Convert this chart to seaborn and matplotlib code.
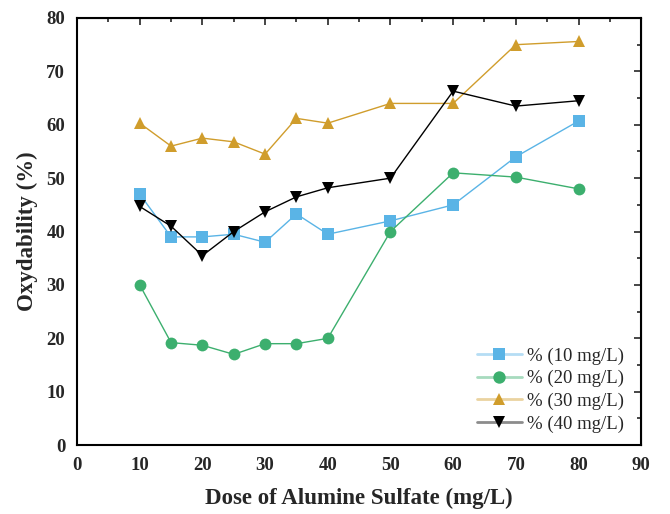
import pandas as pd
import matplotlib.pyplot as plt
import matplotlib.colors as mcolors
import seaborn as sns

doses = [10, 15, 20, 25, 30, 35, 40, 50, 60, 70, 80]
series_names = ["% (10 mg/L)", "% (20 mg/L)", "% (30 mg/L)", "% (40 mg/L)"]
ox_10 = [47.0, 39.0, 39.0, 39.5, 38.0, 43.3, 39.5, 42.0, 45.0, 54.0, 60.7]
ox_20 = [30.0, 19.2, 18.7, 17.0, 19.0, 19.0, 20.0, 40.0, 51.0, 50.2, 48.0]
ox_30 = [60.3, 56.0, 57.5, 56.8, 54.5, 61.2, 60.3, 64.0, 64.0, 75.0, 75.6]
ox_40 = [44.7, 41.0, 35.5, 40.0, 43.7, 46.5, 48.2, 50.0, 66.3, 63.5, 64.5]

colors = ["#5AB4E6", "#3CAF6E", "#D09D2C", "#000000"]
markers = ["s", "o", "^", "v"]

frames = []
for name, vals in zip(series_names, [ox_10, ox_20, ox_30, ox_40]):
    frames.append(pd.DataFrame({"dose": doses, "ox": vals, "series": name}))
df = pd.concat(frames, ignore_index=True)

sns.set_style("white")
plt.rcParams["font.family"] = ["Liberation Serif", "DejaVu Serif"]

fig = plt.figure(figsize=(6.7, 5.14), dpi=100)
ax = fig.add_axes([0.115, 0.134, 0.842, 0.831])

sns.lineplot(
    data=df,
    x="dose",
    y="ox",
    hue="series",
    style="series",
    hue_order=series_names,
    style_order=series_names,
    palette=dict(zip(series_names, colors)),
    markers=dict(zip(series_names, markers)),
    dashes=False,
    markersize=8.5,
    markeredgewidth=0,
    linewidth=1,
    ax=ax,
)

ax.set_xlim(0, 90)
ax.set_ylim(0, 80)
ax.set_xticks(range(0, 91, 10))
ax.set_yticks(range(0, 81, 10))
ax.set_xticks(range(5, 90, 10), minor=True)
ax.set_yticks(range(5, 80, 10), minor=True)
ax.tick_params(which="major", direction="out", length=5, width=1.2, labelsize=13.5)
ax.tick_params(which="minor", direction="out", length=3, width=1.2)
for lbl in ax.get_xticklabels() + ax.get_yticklabels():
    lbl.set_fontweight("bold")

for s in ax.spines.values():
    s.set_linewidth(1.5)
    s.set_color("black")

top = ax.secondary_xaxis("top")
top.set_xticks(range(0, 91, 10))
top.set_xticks(range(5, 90, 10), minor=True)
top.tick_params(which="major", direction="in", length=5, width=1.2, labeltop=False)
top.tick_params(which="minor", direction="in", length=3, width=1.2)
right = ax.secondary_yaxis("right")
right.set_yticks(range(0, 81, 10))
right.set_yticks(range(5, 80, 10), minor=True)
right.tick_params(which="major", direction="in", length=5, width=1.2, labelright=False)
right.tick_params(which="minor", direction="in", length=3, width=1.2)

ax.set_xlabel("Dose of Alumine Sulfate (mg/L)", fontsize=16.5, fontweight="bold", labelpad=10)
ax.set_ylabel("Oxydability (%)", fontsize=16.5, fontweight="bold", labelpad=6)

leg = ax.legend(
    title=None,
    loc="lower right",
    bbox_to_anchor=(1.0, -0.01),
    frameon=False,
    fontsize=13.5,
    handlelength=2.4,
    labelspacing=0.28,
    handletextpad=0.3,
    markerscale=1.05,
)
for h, c in zip(leg.legend_handles, colors):
    light = mcolors.to_rgba(c, 1.0)
    light = tuple(0.45 * v + 0.55 for v in light[:3]) + (1.0,)
    h.set_color(light)
    h.set_markerfacecolor(c)
    h.set_markeredgecolor(c)
    h.set_linewidth(2)

fig.savefig("out.png", dpi=100)
